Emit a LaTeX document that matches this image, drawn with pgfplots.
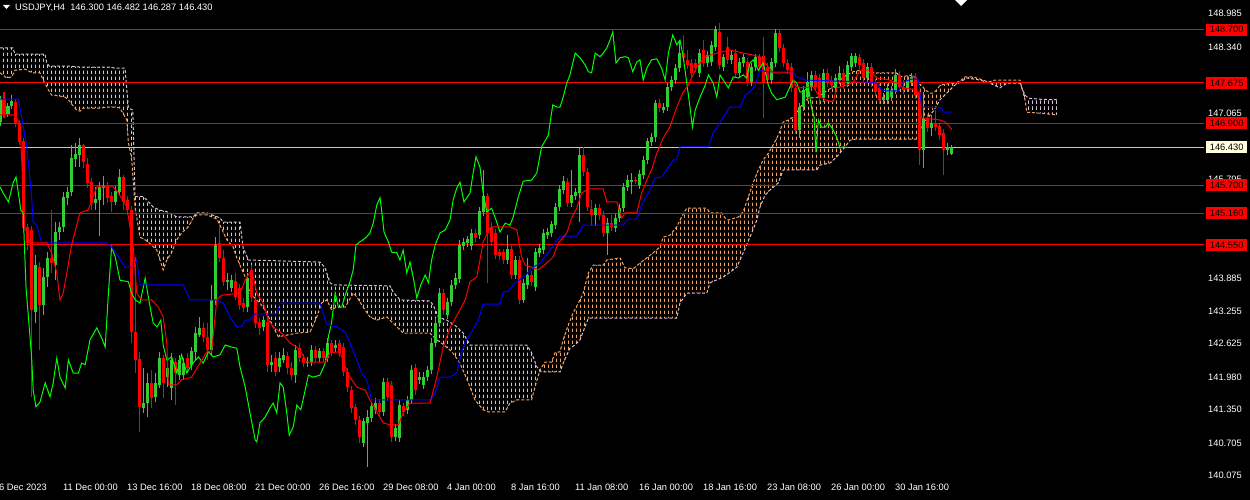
\documentclass[border=0pt]{standalone}
\usepackage{fontspec}
\setmainfont{Liberation Sans}
\usepackage{pgfplots}
\usepackage{pgfplotstable}
\pgfplotsset{compat=1.18}
\usepgfplotslibrary{fillbetween}
\usetikzlibrary{patterns}
\tikzset{fill between/on layer=main}

\definecolor{bull}{RGB}{50,205,50}
\definecolor{bear}{RGB}{255,0,0}
\definecolor{thistle}{RGB}{216,191,216}
\definecolor{sandy}{RGB}{244,164,96}
\definecolor{chikou}{RGB}{0,255,0}
\definecolor{curline}{RGB}{200,200,200}
\definecolor{lblyellow}{RGB}{255,255,224}
\newcommand{\lblfont}{\fontsize{9.3}{10}\selectfont}

% cloud hatching: short vertical dashes, one column per bar (4pt)
\pgfdeclarepatternformonly{vdash}{\pgfqpoint{0pt}{0pt}}{\pgfqpoint{4pt}{6pt}}{\pgfqpoint{4pt}{6pt}}{
  \pgfsetlinewidth{1pt}
  \pgfpathmoveto{\pgfqpoint{0.5pt}{0pt}}
  \pgfpathlineto{\pgfqpoint{0.5pt}{4pt}}
  \pgfusepath{stroke}
}

% i open high low close bull(1)/bear(0)
\pgfplotstableread{
i o h l c k
0 146.92 147.42 146.84 147.35 1
1 147.35 147.50 147.00 147.08 0
2 147.08 147.29 147.02 147.23 1
3 147.23 147.44 147.17 147.33 1
4 147.31 147.36 146.83 146.90 0
5 146.90 146.96 146.48 146.54 0
6 146.54 146.61 144.80 144.88 0
7 144.90 144.95 144.45 144.59 0
8 144.84 144.92 141.62 143.30 0
9 143.26 144.36 143.04 144.16 1
10 144.11 144.22 142.52 143.39 0
11 143.39 144.11 143.20 143.93 1
12 143.93 144.41 143.74 144.30 1
13 144.30 145.22 144.01 144.20 0
14 144.16 144.99 143.87 144.80 1
15 144.80 144.99 144.65 144.90 1
16 144.90 145.57 144.80 145.46 1
17 145.46 145.67 145.32 145.57 1
18 145.57 146.48 145.49 146.23 1
19 146.21 146.52 146.05 146.30 1
20 146.29 146.61 146.05 146.48 1
21 146.48 146.50 146.03 146.15 0
22 146.11 146.23 145.65 145.75 0
23 145.75 145.84 145.22 145.36 0
24 145.36 145.67 145.22 145.44 1
25 145.42 145.76 144.72 145.67 1
26 145.65 145.88 145.32 145.69 1
27 145.69 145.76 145.36 145.46 0
28 145.48 145.57 145.19 145.38 0
29 145.38 145.69 145.32 145.59 1
30 145.57 146.01 145.49 145.86 1
31 145.86 145.90 145.22 145.38 0
32 145.42 145.49 145.13 145.22 0
33 145.22 145.30 142.66 142.87 0
34 142.87 144.32 142.08 142.33 0
35 142.35 142.49 140.94 141.43 0
36 141.41 142.18 141.31 141.50 1
37 141.50 142.08 141.23 141.89 1
38 141.89 142.14 141.41 141.60 0
39 141.62 142.08 141.52 141.89 1
40 141.85 142.49 141.79 142.37 1
41 142.37 142.43 141.60 141.89 0
42 142.00 142.33 141.81 142.18 1
43 141.79 142.47 141.56 142.33 1
44 142.29 142.37 141.46 142.08 0
45 142.04 142.43 141.95 142.33 1
46 142.04 142.37 141.95 142.27 1
47 142.37 142.47 142.08 142.18 0
48 142.24 142.58 142.14 142.49 1
49 142.49 142.97 142.33 142.85 1
50 142.81 143.16 142.78 142.95 1
51 142.95 143.04 142.68 142.78 0
52 142.76 143.04 142.33 142.52 0
53 142.52 143.78 142.43 143.49 1
54 143.49 144.70 143.39 144.55 1
55 144.59 144.97 144.22 144.30 0
56 144.30 144.45 143.76 143.84 0
57 143.84 144.01 143.68 143.87 1
58 143.72 143.97 143.64 143.87 1
59 143.84 144.01 143.49 143.55 0
60 143.72 143.80 143.30 143.39 0
61 143.43 143.53 143.26 143.33 0
62 143.35 144.01 143.26 143.91 1
63 144.07 144.16 143.45 143.55 0
64 143.49 143.57 142.95 143.04 0
65 143.06 143.14 142.81 142.95 0
66 142.97 143.18 142.89 143.10 1
67 143.06 143.14 142.10 142.24 0
68 142.24 142.43 142.10 142.29 1
69 142.37 142.49 142.02 142.10 0
70 142.20 142.49 142.10 142.37 1
71 142.33 142.56 142.27 142.43 1
72 142.41 142.49 142.06 142.18 0
73 142.18 142.29 141.95 142.04 0
74 142.04 142.62 141.89 142.52 1
75 142.56 142.66 142.29 142.37 0
76 142.37 142.45 142.20 142.27 0
77 142.27 142.39 142.20 142.29 1
78 142.29 142.62 142.22 142.52 1
79 142.52 142.60 142.29 142.37 0
80 142.37 142.56 142.29 142.49 1
81 142.49 142.56 142.29 142.37 0
82 142.37 142.76 142.29 142.66 1
83 142.66 142.72 142.41 142.49 0
84 142.56 142.72 142.49 142.62 1
85 142.66 142.72 142.39 142.47 0
86 142.58 142.66 142.02 142.10 0
87 142.10 142.18 141.71 141.81 0
88 141.75 141.83 141.31 141.41 0
89 141.41 141.48 141.08 141.17 0
90 141.17 141.25 140.73 140.85 0
91 140.73 141.21 140.65 141.14 1
92 141.12 141.37 140.27 141.23 1
93 141.21 141.52 141.14 141.43 1
94 141.37 141.60 141.29 141.50 1
95 141.50 141.58 141.25 141.33 0
96 141.33 141.98 141.25 141.91 1
97 141.91 141.98 141.54 141.62 0
98 141.85 141.93 140.75 140.85 0
99 140.85 141.10 140.77 141.02 1
100 140.83 141.56 140.75 141.46 1
101 141.43 141.50 141.25 141.33 0
102 141.37 141.64 141.29 141.56 1
103 141.56 142.24 141.48 142.14 1
104 142.18 142.25 141.66 141.75 0
105 141.95 142.10 141.87 142.00 1
106 141.85 142.10 141.77 142.00 1
107 142.00 142.22 141.93 142.14 1
108 142.14 142.76 142.06 142.66 1
109 142.66 143.14 142.58 143.04 1
110 143.04 143.72 142.97 143.62 1
111 143.62 143.70 143.20 143.30 0
112 143.20 143.53 143.12 143.45 1
113 143.45 143.87 143.37 143.78 1
114 143.78 144.01 143.70 143.91 1
115 143.89 144.65 143.82 144.55 1
116 144.53 144.68 144.45 144.61 1
117 144.59 144.72 144.51 144.65 1
118 144.53 144.86 144.45 144.78 1
119 144.78 144.86 144.61 144.68 0
120 144.74 145.28 144.66 145.19 1
121 145.19 146.00 145.11 145.48 1
122 145.48 145.55 143.82 144.78 0
123 144.90 144.99 144.53 144.61 0
124 144.78 144.86 144.28 144.36 0
125 144.40 144.47 144.26 144.34 0
126 144.40 144.47 144.18 144.26 0
127 144.26 144.74 144.18 144.47 1
128 144.47 144.55 143.89 143.97 0
129 143.97 144.34 143.89 144.26 1
130 144.26 144.34 143.41 143.49 0
131 143.49 143.89 143.43 143.82 1
132 143.78 144.30 143.70 143.97 1
133 143.97 144.05 143.76 143.84 0
134 143.74 144.49 143.66 144.41 1
135 144.40 144.57 144.32 144.49 1
136 144.45 144.86 144.38 144.78 1
137 144.74 144.88 144.66 144.80 1
138 144.78 145.01 144.70 144.94 1
139 144.94 145.36 144.86 145.28 1
140 145.28 145.71 145.21 145.63 1
141 145.61 145.88 145.53 145.78 1
142 145.76 145.84 145.28 145.36 0
143 145.36 146.00 145.28 145.51 1
144 145.49 145.65 145.42 145.57 1
145 145.55 146.42 144.99 146.27 1
146 146.27 146.44 145.88 145.96 0
147 145.96 146.03 145.21 145.28 0
148 145.24 145.42 144.92 145.13 0
149 145.13 145.34 144.92 145.26 1
150 145.26 145.34 145.03 145.13 0
151 145.13 145.21 144.70 144.78 0
152 144.78 145.07 144.36 144.97 1
153 144.97 145.13 144.82 144.90 0
154 144.88 145.15 144.80 145.07 1
155 145.07 145.34 144.99 145.26 1
156 145.26 145.75 145.19 145.67 1
157 145.67 145.90 145.59 145.80 1
158 145.76 145.94 145.53 145.80 1
159 145.80 145.86 145.73 145.78 0
160 145.71 146.00 145.63 145.92 1
161 145.90 146.27 145.82 146.19 1
162 146.19 146.61 146.11 146.54 1
163 146.54 146.71 146.46 146.63 1
164 146.63 147.35 146.54 147.29 1
165 147.29 147.36 147.11 147.19 0
166 147.15 147.29 147.10 147.21 1
167 147.21 147.67 147.13 147.60 1
168 147.60 147.81 147.52 147.73 1
169 147.73 148.04 147.65 147.96 1
170 147.96 148.50 147.89 148.25 1
171 148.25 148.60 148.08 148.16 0
172 148.12 148.31 147.94 148.02 0
173 148.06 148.14 147.79 147.87 0
174 148.06 148.14 147.89 147.96 0
175 147.87 148.33 147.79 148.25 1
176 148.31 148.50 147.98 148.06 0
177 148.06 148.29 147.98 148.21 1
178 148.08 148.48 148.00 148.41 1
179 148.37 148.77 148.29 148.70 1
180 148.66 148.83 147.94 148.02 0
181 147.98 148.23 147.90 148.16 1
182 148.37 148.56 148.04 148.12 0
183 148.12 148.29 148.04 148.21 1
184 148.25 148.33 147.79 147.87 0
185 147.87 148.16 147.79 148.08 1
186 148.06 148.23 147.98 148.16 1
187 148.08 148.16 147.62 147.69 0
188 147.69 148.06 147.62 147.98 1
189 147.98 148.23 147.90 148.16 1
190 148.16 148.23 147.90 147.98 0
191 148.18 148.56 147.00 147.67 0
192 147.98 148.06 147.65 147.73 0
193 147.73 148.16 147.65 148.08 1
194 148.06 148.71 147.98 148.64 1
195 148.64 148.71 148.27 148.35 0
196 148.35 148.43 147.98 148.06 0
197 148.06 148.14 147.85 147.92 0
198 147.98 148.06 147.50 147.58 0
199 147.58 147.65 146.69 146.77 0
200 146.77 147.29 146.61 147.21 1
201 147.21 147.62 147.13 147.54 1
202 147.40 147.89 147.33 147.69 1
203 147.60 147.90 147.52 147.83 1
204 147.83 147.90 147.52 147.60 0
205 147.77 147.85 147.25 147.38 0
206 147.38 147.94 147.31 147.87 1
207 147.87 147.94 147.60 147.67 0
208 147.73 147.81 147.56 147.63 0
209 147.58 147.85 147.50 147.77 1
210 147.73 148.00 147.65 147.87 1
211 147.87 147.94 147.56 147.63 0
212 147.67 148.10 147.60 148.02 1
213 147.98 148.25 147.90 148.18 1
214 148.06 148.25 147.98 148.18 1
215 148.16 148.23 147.94 148.02 0
216 148.06 148.14 147.69 147.77 0
217 147.77 148.06 147.69 147.98 1
218 147.98 148.06 147.60 147.67 0
219 147.67 147.75 147.42 147.50 0
220 147.58 147.65 147.27 147.35 0
221 147.35 147.48 147.27 147.40 1
222 147.35 147.65 147.27 147.58 1
223 147.40 147.62 147.33 147.54 1
224 147.54 147.94 147.46 147.83 1
225 147.83 147.90 147.52 147.60 0
226 147.60 147.73 147.46 147.54 0
227 147.58 147.81 147.50 147.73 1
228 147.69 147.87 147.62 147.79 1
229 147.79 147.87 147.36 147.44 0
230 147.50 147.58 146.09 146.38 0
231 146.38 147.50 146.03 147.00 1
232 147.00 147.08 146.73 146.81 0
233 146.81 147.06 146.65 146.90 1
234 146.90 147.15 146.75 146.83 0
235 146.83 146.90 146.57 146.67 0
236 146.71 146.79 145.90 146.38 0
237 146.38 146.52 146.29 146.44 1
238 146.300 146.482 146.287 146.430 1
}\candles

% Senkou span A (shifted 26 bars ahead)
\pgfplotstableread{
x y
0 147.87
1.7 147.77
2.9 147.79
3.75 147.92
6.25 147.94
7.5 147.89
8.3 147.87
10 147.87
10.8 147.73
12.1 147.54
12.9 147.44
15 147.42
16.3 147.40
17.1 147.35
18.3 147.23
19.2 147.15
20 147.13
20.8 147.19
25 147.19
27.1 147.21
28.8 147.21
30 147.19
31.7 146.96
32.1 146.52
32.9 146.23
33.75 145.28
35 144.70
36.25 144.65
37.9 144.55
39.2 144.45
40 144.26
40.8 144.07
41.7 144.26
42.9 144.40
44.2 144.65
45.4 144.78
47.1 144.90
48.3 145.07
49.2 145.13
51.7 145.13
54.2 145.05
55 144.93
56.7 144.65
58.3 144.51
59.2 144.30
61.3 143.93
62.5 143.62
65 143.43
66.7 143.24
68.3 142.97
69.6 142.78
71.7 142.81
74.2 142.85
77.5 142.87
79.2 143.16
80.4 143.43
81.7 143.49
82.9 143.30
84.2 143.35
86.3 143.35
88.3 143.62
89.2 143.55
90.8 143.35
92.5 143.16
94.2 143.10
96.7 143.16
98.3 143.04
100.8 142.85
107.5 142.85
109.2 142.72
111 142.62
113 142.49
115 142.27
117.1 141.89
118.75 141.56
120.8 141.37
122.1 141.33
126.25 141.33
127.5 141.50
129.2 141.56
132.9 141.56
133.75 141.81
135 142.14
135.5 142.20
136.25 142.29
137.9 142.29
138.75 142.47
140 142.49
140.8 142.72
142.1 143.01
143.3 143.24
144.6 143.43
145.8 143.62
147.1 144.01
148.3 144.16
150.8 144.16
151.7 144.26
155 144.30
156.25 144.11
158.3 144.09
160 144.20
161.7 144.30
163.3 144.40
165 144.51
165.8 144.70
167.5 144.74
169.2 144.90
170.4 145.09
171.7 145.26
176.7 145.26
177.5 145.17
180.4 145.17
181.25 145.07
182.1 145.03
184.6 145.09
185.8 145.19
187.1 145.48
188.3 145.75
189.6 146.00
190.8 146.19
192.1 146.32
193.3 146.48
194.6 146.67
195.8 146.92
197.1 146.96
198.3 147.02
199.6 147.15
200.8 147.29
202.1 147.38
204.6 147.40
205.8 147.48
208.3 147.60
210 147.73
211.7 147.83
213.3 147.89
215 147.92
217.5 147.87
224.2 147.87
225 147.79
228.3 147.83
229.2 147.67
230.4 147.63
231.25 147.54
232.5 147.48
233.3 147.48
234.2 147.54
235 147.63
236.25 147.65
238.75 147.67
240 147.71
241.25 147.79
243.3 147.79
245 147.75
247.1 147.69
248.75 147.73
255 147.73
255.4 147.60
256.25 147.35
256.7 147.11
260 147.09
264.2 147.06
}\spanA

% Senkou span B
\pgfplotstableread{
x y
0 148.35
3.2 148.35
3.75 148.23
11.25 148.23
11.7 148.06
12.3 148.00
17.1 148.00
20 147.98
27.5 147.98
28.75 147.96
31.25 147.96
32.1 147.19
33.2 147.15
33.75 145.48
35.8 145.48
36.7 145.42
38.3 145.28
40 145.22
41.7 145.19
44.2 145.09
48.3 145.09
49.2 145.17
51.7 145.17
55 145.07
55.8 144.99
60 144.99
60.8 144.49
62.1 144.26
80 144.22
81.25 144.11
82.5 143.82
83.3 143.78
97.5 143.76
98.3 143.64
100 143.49
107.5 143.47
108.3 143.39
109.6 143.16
111.7 143.10
112.9 143.04
114.2 142.97
115.8 142.85
117.5 142.62
131.7 142.62
132.9 142.47
134.2 142.20
135.4 142.10
140 142.10
140.8 142.27
142.5 142.56
143.75 142.62
145 142.72
146.25 142.97
147.1 143.14
169.2 143.14
170 143.43
171.7 143.62
176.7 143.62
177.5 143.82
180.8 143.93
184.2 144.12
185.8 144.40
187.5 144.70
189.2 145.03
190 145.28
191.25 145.51
192.5 145.61
194.6 145.75
195.8 146.00
204.2 146.00
205 146.09
207.5 146.13
209.2 146.25
211.25 146.44
212.5 146.57
213.75 146.59
229.6 146.59
230.4 146.86
232 147.00
233.5 147.15
235 147.35
237 147.50
238.5 147.62
240 147.69
241.7 147.77
245 147.73
247.5 147.67
250 147.58
251.7 147.67
255 147.67
256.25 147.44
257.1 147.38
260 147.36
264.2 147.35
}\spanB

\begin{document}
\begin{tikzpicture}
\fill[black] (0pt,0pt) rectangle (1250pt,500pt);
\begin{axis}[
  at={(0pt,21pt)}, anchor=south west,
  scale only axis, width=1204pt, height=479pt,
  xmin=0, xmax=301, ymin=140.036, ymax=149.274,
  clip mode=individual,
  axis x line*=bottom, axis y line*=right,
  axis line style={draw=white, line width=1pt},
  tick style={draw=white, line width=1pt},
  major tick length=4pt, tick align=outside,
  typeset ticklabels with strut,
  colormap={candle}{color=(bear) color=(bull)},
  point meta min=0, point meta max=1,
  xtick={0,16,...,224},
  xticklabels={{\llap{6 Dec 2023\kern-47pt}},11 Dec 00:00,13 Dec 16:00,18 Dec 08:00,21 Dec 00:00,26 Dec 16:00,29 Dec 08:00,4 Jan 00:00,8 Jan 16:00,11 Jan 08:00,16 Jan 00:00,18 Jan 16:00,23 Jan 08:00,26 Jan 00:00,30 Jan 16:00},
  xticklabel style={anchor=north west, text=white, font=\lblfont, inner sep=0pt, xshift=-1pt},
  ytick={148.985,148.340,147.700,147.065,146.430,145.795,145.160,144.525,143.885,143.255,142.625,141.980,141.350,140.705,140.075},
  yticklabels={148.985,148.340,,147.065,,145.795,,,143.885,143.255,142.625,141.980,141.350,140.705,140.075},
  yticklabel style={anchor=west, text=white, font=\lblfont, inner sep=0pt},
]
% cloud boundaries (invisible, for the hatching)
\addplot[draw=none, name path=sa, forget plot] table[x=x, y=y] {\spanA};
\addplot[draw=none, name path=sb, forget plot] table[x=x, y=y] {\spanB};
\addplot[pattern=vdash, pattern color=thistle, draw=none] fill between[of=sa and sb, soft clip={domain=0:135.5}];
\addplot[pattern=vdash, pattern color=sandy, draw=none] fill between[of=sa and sb, soft clip={domain=135.5:255.2}];
\addplot[pattern=vdash, pattern color=thistle, draw=none] fill between[of=sa and sb, soft clip={domain=255.2:264.2}];
\addplot[sandy, line width=1pt, dash pattern=on 3pt off 2pt] table[x=x, y=y] {\spanA};
\addplot[thistle, line width=1pt, dash pattern=on 3pt off 2pt] table[x=x, y=y] {\spanB};

% horizontal levels
\addplot[bear, line width=1pt] coordinates {(0,148.700) (301,148.700)};
\addplot[bear, line width=1pt] coordinates {(0,147.675) (301,147.675)};
\addplot[bear, line width=1pt] coordinates {(0,146.900) (301,146.900)};
\addplot[bear, line width=1pt] coordinates {(0,145.700) (301,145.700)};
\addplot[bear, line width=1pt] coordinates {(0,145.160) (301,145.160)};
\addplot[bear, line width=1pt] coordinates {(0,144.550) (301,144.550)};
\addplot[curline, line width=1pt] coordinates {(0,146.430) (301,146.430)};

% candles: wicks (low to high), bodies (from the lower of open/close)
\addplot[mark=none, point meta=\thisrow{k},
  quiver={u=0, v=\thisrow{h}-\thisrow{l},
    every arrow/.append style={draw=mapped color, line width=1pt, -}}]
  table[x=i, y=l] {\candles};
\addplot[mark=none, point meta=\thisrow{k},
  quiver={u=0, v=abs(\thisrow{c}-\thisrow{o})+0.01,
    every arrow/.append style={draw=mapped color, line width=3pt, -}}]
  table[x=i, y expr={min(\thisrow{o},\thisrow{c})-0.005}] {\candles};

% Chikou span
\addplot[chikou, line width=1pt] coordinates {
(0,145.67)(0.8,145.55)(2.1,145.38)(3.3,145.75)(4,145.86)(4.6,145.55)(5.2,145.22)(5.8,145.17)(6.5,143.74)(7.1,143.16)(7.9,142.39)(8.3,141.75)(9,141.43)(10,141.52)(11.3,141.89)(12.5,141.62)(13.3,141.89)(14.2,142.37)(15,142.00)(16.3,141.79)(17.1,142.33)(18.3,142.08)(19.6,142.08)(20.4,142.27)(21.3,142.24)(22.5,142.72)(24.2,142.95)(25.4,142.76)(26.3,142.58)(27.1,143.62)(27.9,144.51)(28.8,144.32)(30,143.87)(32.1,143.84)(32.9,143.62)(33.8,143.49)(35,143.43)(36.3,143.91)(37.3,143.45)(38.3,143.04)(39.3,142.97)(40.2,143.10)(40.8,142.62)(41.7,142.33)(42.9,142.39)(44.2,142.08)(45.4,142.43)(46.7,142.08)(47.9,142.24)(49.6,142.39)(50.8,142.27)(52.1,142.49)(53.3,142.39)(55,142.43)(56.3,142.62)(57.9,142.58)(59.2,142.56)
(60,142.20)(61.3,141.81)(62.5,141.31)(63.8,140.79)(64.2,140.75)(65,141.12)(66.3,141.23)(67.5,141.41)(68.3,141.50)(69.2,141.31)(70,141.89)(70.8,141.81)(71.7,141.31)(72.3,140.88)(73.3,141.04)(74.2,141.46)(75.2,141.37)(76.3,141.75)(77.1,142.04)(78.3,142.00)(80,142.04)(81.3,142.27)(82.1,142.78)(82.9,143.06)(83.8,143.62)(84.6,143.35)(85.4,143.35)(86.3,143.58)(87.5,143.84)(88.3,144.07)(89,144.55)(90,144.61)(91.3,144.68)(92.5,144.78)(93.3,144.97)(94.2,145.32)(95,145.46)(95.4,145.22)(96,144.80)(97.1,144.61)(97.9,144.41)(99.2,144.40)(100,144.26)(100.8,144.45)(101.7,144.01)(102.5,144.22)(103.3,143.93)(104.2,143.53)(105.2,143.78)(106.3,143.97)(107.1,143.82)(107.9,144.26)(108.8,144.55)(110,144.78)(111.3,144.84)(112.5,145.03)(113.3,145.42)(114.2,145.65)(115,145.76)(116,145.38)(117.5,145.55)
(118.3,145.94)(119,146.25)(120,146.05)(120.8,145.55)(121.7,145.19)(122.9,145.26)(124,145.03)(125,144.80)(126.3,144.97)(127.5,144.93)(128.3,145.09)(129.6,145.48)(130.8,145.78)(132.9,145.80)(134.2,145.94)(135.4,146.44)(137.1,146.67)(137.5,146.90)(138.2,147.25)(139.2,147.21)(140,147.21)(140.8,147.40)(141.7,147.67)(142.5,147.83)(143.8,148.25)(145,148.16)(146.3,148.02)(147.1,147.89)(147.9,147.87)(148.8,148.25)(150,148.18)(150.8,148.25)(151.7,148.35)(152.5,148.50)(153.2,148.66)(154,148.06)(155,148.16)(156.3,148.18)(157.1,148.16)(158.2,147.89)(159.2,148.08)(160,148.12)(160.8,147.73)(161.7,147.96)(162.9,148.12)(164.2,148.14)(165.4,147.96)(166.3,147.73)(167.1,148.25)(168.2,148.60)(169.2,148.41)(170,148.50)(170.8,148.18)(171.7,147.67)(172.5,147.21)(173.1,146.82)(173.8,147.15)
(175,147.40)(176.3,147.63)(177.1,147.83)(178.3,147.67)(179.2,147.40)(180,147.83)(181.3,147.67)(182.1,147.58)(183.3,147.79)(184.6,147.77)(185.8,147.83)(186.7,147.77)(187.5,148.06)(188.3,148.12)(189.6,147.92)(190.8,148.06)(192.1,147.63)(192.9,147.48)(194.2,147.35)(195.4,147.38)(196.3,147.40)(197.5,147.60)(198.3,147.73)(199.2,147.67)(200,147.50)(200.8,147.50)(202.1,147.60)(202.9,147.19)(203.5,147.02)(204,146.34)(204.6,146.96)(205.4,146.82)(206.3,146.82)(207.1,146.90)(207.9,146.82)(209.2,146.63)(210,146.42)(210.8,146.44)(212,146.43)
};

% Kijun-sen
\addplot[blue, line width=1pt] coordinates {
(0,147.36)(4.6,147.36)(5.4,147.02)(6.7,146.44)(7.9,145.48)(8.3,144.99)(9.2,144.93)(10.4,144.59)(26.7,144.59)(27.9,144.51)(29.6,144.32)(31.3,144.12)(33.3,144.12)(34.2,144.26)(35,143.78)(45.8,143.78)(47.5,143.49)(54.2,143.49)(55.8,143.43)(57.5,143.16)(59.2,142.97)(60.4,142.97)(61.3,143.10)(62.5,143.10)(63.8,143.22)(69.2,143.22)(70,143.43)(80,143.43)(81.7,143.01)(84.2,142.97)(86.3,142.87)(87.5,142.66)(89.2,142.33)(90.4,142.08)(91.7,141.95)(92.9,141.56)(107.5,141.56)(108.8,141.69)(110,142.00)(112.5,142.00)(114.2,142.08)(115,142.37)(116.3,142.68)(117.9,142.87)(119.6,143.10)(120.8,143.41)(125,143.41)(125.8,143.64)(127.1,143.66)(128.8,143.82)(130.8,143.93)(133.3,144.12)(135,144.20)(137.5,144.45)(140,144.72)(144.2,144.72)(145.8,144.93)(155.8,144.93)(157.1,145.05)(159.2,145.05)(160.4,145.32)(162.1,145.55)(163.8,145.84)(165.4,145.86)(167.1,146.05)(168.3,146.19)(169.2,146.19)(170,146.44)(177.1,146.44)(178.3,146.71)(180.4,146.96)(182.5,147.21)(185,147.21)(186.3,147.44)(187.5,147.50)(188.8,147.63)(190,147.92)(191.7,147.89)(198.3,147.89)(199.2,147.79)(201.3,147.73)(217.5,147.69)(219.2,147.67)(220.4,147.54)(221.7,147.52)(224.6,147.52)(225.8,147.69)(227.9,147.75)(229.6,147.75)(230.4,147.21)(235.4,147.19)(235.8,147.11)(238,147.11)
};

% Tenkan-sen
\addplot[bear, line width=1pt] coordinates {
(0,147.06)(3.75,147.06)(5,146.86)(6.25,144.88)(7.5,144.59)(11.7,144.59)(12.9,144.40)(14.2,144.01)(15,143.49)(15.8,143.62)(16.7,144.01)(17.9,144.55)(20,145.17)(22,145.22)(23,145.42)(24.2,145.67)(28.3,145.67)(29.6,145.55)(31.7,145.28)(33.3,144.51)(34.2,143.62)(35.4,143.49)(37.9,143.49)(39.6,143.35)(40.8,143.16)(41.7,142.66)(42.1,141.85)(44.2,141.85)(45.4,141.95)(47.9,142.00)(50,142.27)(51.7,142.49)(52.9,142.49)(54.2,143.49)(55.4,143.58)(60,143.62)(61.3,143.87)(62.9,144.07)(64.2,143.62)(65.8,143.43)(67.1,143.10)(68.3,142.97)(70.4,142.85)(72.5,142.66)(74.2,142.58)(75.4,142.47)(76.7,142.29)(81.3,142.29)(82.5,142.47)(85,142.49)(86.3,142.20)(87.5,142.00)(89.2,141.81)(91.3,141.75)(92.5,141.56)(94.2,141.33)(95.8,141.12)(97.5,141.08)(99.6,141.08)(100.8,141.31)(102.5,141.50)(107.5,141.50)(109.2,142.00)(110.8,142.58)(112.5,142.95)(115,143.30)(116.3,143.49)(117.5,143.84)(119.2,143.93)(120.8,144.61)(122.5,144.88)(123.3,144.90)(127.5,144.90)(129.2,144.84)(130.4,144.32)(131.3,144.16)(132.9,144.12)(134.6,144.07)(136.7,144.20)(138.3,144.32)(139.6,144.59)(141.7,144.78)(142.9,145.07)(144.2,145.26)(145.4,145.55)(147.1,145.63)(150.8,145.63)(151.7,145.38)(154.2,145.38)(155.4,145.07)(156.3,145.17)(159.2,145.17)(160.4,145.55)(161.7,145.80)(162.9,146.00)(164.2,146.32)(165.8,146.61)(167.5,146.83)(169.2,147.21)(170.8,147.50)(172.1,147.63)(173,147.79)(174.2,147.98)(176.3,148.18)(179.2,148.25)(182.5,148.31)(185.8,148.25)(188.3,148.21)(190,148.18)(193.3,147.87)(197.5,147.87)(198.8,147.63)(200,147.58)(203.3,147.60)(204.6,147.44)(206.3,147.35)(208.3,147.31)(209.2,147.58)(211.7,147.63)(213.3,147.69)(215,147.92)(217.5,147.92)(219.2,147.77)(222.5,147.73)(224.2,147.67)(225.8,147.58)(229.2,147.54)(230.4,147.00)(235,146.96)(236.3,146.92)(237.1,146.86)(238,146.77)
};

\coordinate (h1) at (axis cs:301,148.700);
\coordinate (h2) at (axis cs:301,147.675);
\coordinate (h3) at (axis cs:301,146.900);
\coordinate (h4) at (axis cs:301,145.700);
\coordinate (h5) at (axis cs:301,145.160);
\coordinate (h6) at (axis cs:301,144.550);
\coordinate (cur) at (axis cs:301,146.430);
\end{axis}

\foreach \c/\t in {h1/148.700,h2/147.675,h3/146.900,h4/145.700,h5/145.160,h6/144.550}{
  \node[fill=bear, text=black, anchor=west, inner sep=0pt, minimum width=41pt, minimum height=12pt, font=\lblfont] at ([xshift=2pt]\c) {\t};
}
\node[fill=lblyellow, text=black, anchor=west, inner sep=0pt, minimum width=41pt, minimum height=12pt, font=\lblfont] at ([xshift=2pt]cur) {146.430};

% header
\fill[white] (3pt,495pt) -- (10pt,495pt) -- (6.5pt,491pt) -- cycle;
\node[anchor=base west, text=white, inner sep=0pt, font=\lblfont] at (15pt,489pt) {USDJPY,H4\ \ 146.300 146.482 146.287 146.430};
\fill[white] (955pt,500pt) -- (967pt,500pt) -- (961pt,494pt) -- cycle;

\pgfresetboundingbox
\path[use as bounding box] (0pt,0pt) rectangle (1250pt,500pt);
\end{tikzpicture}
\end{document}
